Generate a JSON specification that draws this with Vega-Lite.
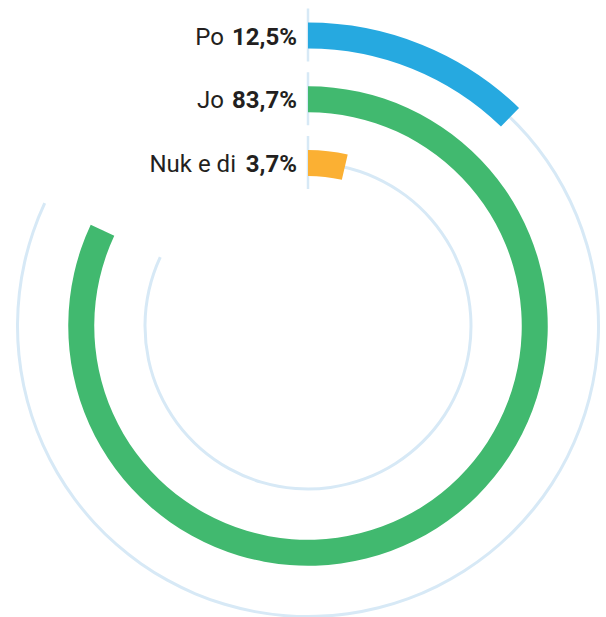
{
  "$schema": "https://vega.github.io/schema/vega-lite/v6.json",
  "width": 580,
  "height": 580,
  "autosize": {"type": "none"},
  "padding": {"left": 18, "top": 36, "right": 8, "bottom": 1},
  "background": "white",
  "config": {
    "view": {"stroke": null},
    "locale": {"number": {"decimal": ",", "thousands": ".", "grouping": [3], "currency": ["", " €"]}}
  },
  "data": {
    "values": [
      {"category": "Po", "share": 0.125},
      {"category": "Jo", "share": 0.837},
      {"category": "Nuk e di", "share": 0.037}
    ]
  },
  "layer": [
    {
      "transform": [{"joinaggregate": [{"op": "max", "field": "share", "as": "maxShare"}]}],
      "mark": {"type": "arc", "radiusOffset": 1.5, "radius2Offset": -1.5, "color": "#d7e9f6"},
      "encoding": {
        "theta": {"field": "maxShare", "type": "quantitative", "stack": null, "scale": {"domain": [0, 1], "range": [0, 6.1514]}},
        "theta2": {"datum": 0},
        "radius": {"field": "category", "type": "nominal", "scale": {"type": "point", "domain": ["Nuk e di", "Jo", "Po"], "range": [163, 290.5], "padding": 0}},
        "radius2": {"field": "category"}
      }
    },
    {
      "mark": {"type": "arc", "filled": false, "stroke": "#d7e9f6", "strokeWidth": 2.5, "radiusOffset": 27, "radius2Offset": -26},
      "encoding": {
        "theta": {"datum": 0, "type": "quantitative"},
        "theta2": {"datum": 0},
        "radius": {"field": "category", "type": "nominal"},
        "radius2": {"field": "category"}
      }
    },
    {
      "mark": {"type": "arc", "radiusOffset": 13, "radius2Offset": -13},
      "encoding": {
        "theta": {"field": "share", "type": "quantitative", "stack": null},
        "theta2": {"datum": 0},
        "radius": {"field": "category", "type": "nominal"},
        "radius2": {"field": "category"},
        "color": {"field": "category", "type": "nominal", "legend": null, "scale": {"domain": ["Po", "Jo", "Nuk e di"], "range": ["#26a9e0", "#41b96f", "#fbb033"]}}
      }
    },
    {
      "mark": {"type": "text", "align": "right", "baseline": "alphabetic", "dx": -11, "dy": 9, "font": "Roboto", "fontSize": 24, "fontWeight": "bold", "color": "#231f20"},
      "encoding": {
        "theta": {"datum": 0, "type": "quantitative"},
        "radius": {"field": "category", "type": "nominal"},
        "text": {"field": "share", "type": "quantitative", "format": ".1%"}
      }
    },
    {
      "transform": [{"filter": "datum.category !== 'Nuk e di'"}],
      "mark": {"type": "text", "align": "right", "baseline": "alphabetic", "dx": -84, "dy": 9, "font": "Roboto", "fontSize": 24, "color": "#231f20"},
      "encoding": {
        "theta": {"datum": 0, "type": "quantitative"},
        "radius": {"field": "category", "type": "nominal"},
        "text": {"field": "category", "type": "nominal"}
      }
    },
    {
      "transform": [{"filter": "datum.category === 'Nuk e di'"}],
      "mark": {"type": "text", "align": "right", "baseline": "alphabetic", "dx": -72, "dy": 9, "font": "Roboto", "fontSize": 24, "color": "#231f20"},
      "encoding": {
        "theta": {"datum": 0, "type": "quantitative"},
        "radius": {"field": "category", "type": "nominal"},
        "text": {"field": "category", "type": "nominal"}
      }
    }
  ]
}
